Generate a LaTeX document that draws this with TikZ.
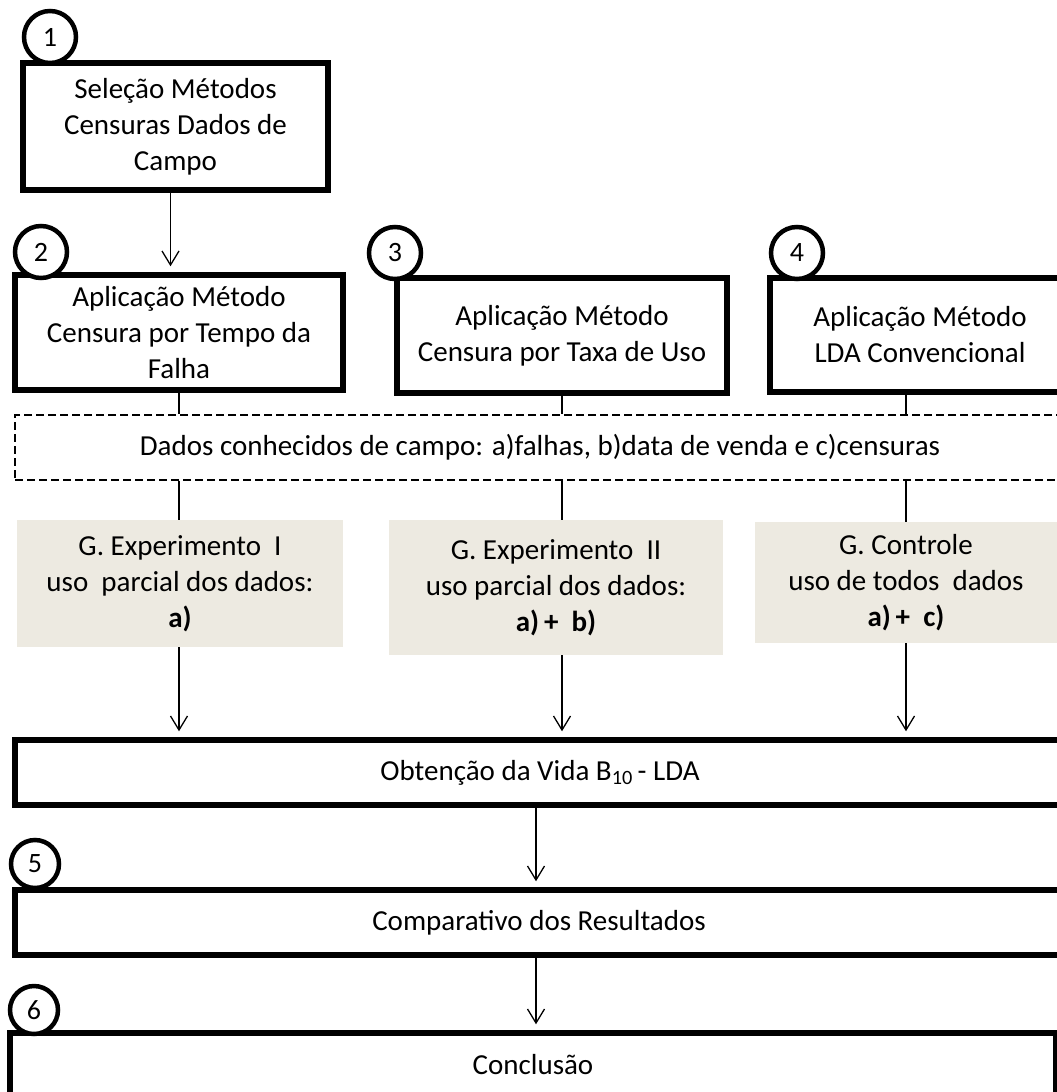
\documentclass[tikz,border=0pt]{standalone}
\usepackage{fontspec}
\setmainfont{Carlito}
\usetikzlibrary{arrows.meta}
\definecolor{groupfill}{RGB}{237,234,225}
\begin{document}
\begin{tikzpicture}[x=1pt,y=-1pt,
  every node/.style={font=\fontsize{29}{36}\selectfont, align=center, inner sep=0pt},
  stepbox/.style={draw, line width=5.5pt},
  widebox/.style={draw, line width=5.5pt},
  groupbox/.style={fill=groupfill},
  databox/.style={draw, line width=1.3pt, dash pattern=on 8pt off 4pt},
  numcirc/.style={circle, draw, line width=4.5pt, fill=white, minimum size=52pt,
    font=\fontsize{28}{32}\selectfont},
  link/.style={line width=1.3pt},
  arrow/.style={line width=1.3pt, -{Straight Barb[length=14pt,width=17pt]}, shorten >=6pt}
]
\path[use as bounding box] (0,0) rectangle (1057,1092);
\clip (0,0) rectangle (1057,1092);

% method selection and the three method boxes
\node[stepbox, minimum width=305pt, minimum height=127pt] (b1) at (175.5,126.5)
  {Seleção Métodos\\Censuras Dados de\\Campo};
\node[stepbox, minimum width=328pt, minimum height=115pt] (b2) at (179,332.5)
  {Aplicação Método\\Censura por Tempo da\\Falha};
\node[stepbox, minimum width=330pt, minimum height=115pt] (b3) at (562,335.5)
  {Aplicação Método\\Censura por Taxa de Uso};
\node[stepbox, minimum width=300pt, minimum height=114pt] (b4) at (920,335)
  {Aplicação Método\\LDA Convencional};

% field data band
\node[databox, minimum width=1050pt, minimum height=65pt] (data) at (540,447.5)
  {Dados conhecidos\ de campo: a)falhas, b)data de venda e c)censuras};

% experiment groups
\node[groupbox, minimum width=326pt, minimum height=127pt] (g1) at (180,583.5)
  {G. Experimento\ \ I\\uso\ \ parcial dos dados:\\\textbf{a)}};
\node[groupbox, minimum width=334pt, minimum height=135pt] (g2) at (556,587.5)
  {G. Experimento\ \ II\\uso parcial dos dados:\\\textbf{a)\,+\ \ b)}};
\node[groupbox, minimum width=302pt, minimum height=121pt] (g3) at (906,582.5)
  {G. Controle\\uso de todos\ \ dados\\\textbf{a)\,+\ \ c)}};

% result boxes
\node[widebox, minimum width=1050pt, minimum height=65pt] (obt) at (540,772.5)
  {Obtenção da Vida B\textsubscript{10}\,- LDA};
\node[widebox, minimum width=1048pt, minimum height=65pt] (comp) at (539,922.5)
  {Comparativo dos Resultados};
\node[widebox, minimum width=1046pt, minimum height=64pt] (concl) at (533,1065)
  {Conclusão};

% step numbers
\node[numcirc] (n1) at (50,37) {1};
\node[numcirc] (n2) at (41,252) {2};
\node[numcirc] (n3) at (395,253) {3};
\node[numcirc] (n4) at (797,253) {4};
\node[numcirc, minimum size=48pt] (n5) at (35,864) {5};
\node[numcirc, minimum size=48pt] (n6) at (34,1010) {6};

% connectors
\draw[arrow] ([xshift=-5pt]b1.south) -- ([xshift=-5pt]b1.south |- b2.north);

\draw[link] (b2.south) -- (b2.south |- data.north);
\draw[link] (b3.south) -- (b3.south |- data.north);
\draw[link] (g3.north |- b4.south) -- (g3.north |- data.north);

\draw[link] (b2.south |- data.south) -- (b2.south |- g1.north);
\draw[link] (b3.south |- data.south) -- (b3.south |- g2.north);
\draw[link] (g3.north |- data.south) -- (g3.north);

\draw[arrow] (b2.south |- g1.south) -- (b2.south |- obt.north);
\draw[arrow] (b3.south |- g2.south) -- (b3.south |- obt.north);
\draw[arrow] (g3.south) -- (g3.south |- obt.north);

\draw[arrow] ([xshift=-4pt]obt.south) -- ([xshift=-4pt]obt.south |- comp.north);
\draw[arrow] ([xshift=-3pt]comp.south) -- ([xshift=-3pt]comp.south |- concl.north);
\end{tikzpicture}
\end{document}
